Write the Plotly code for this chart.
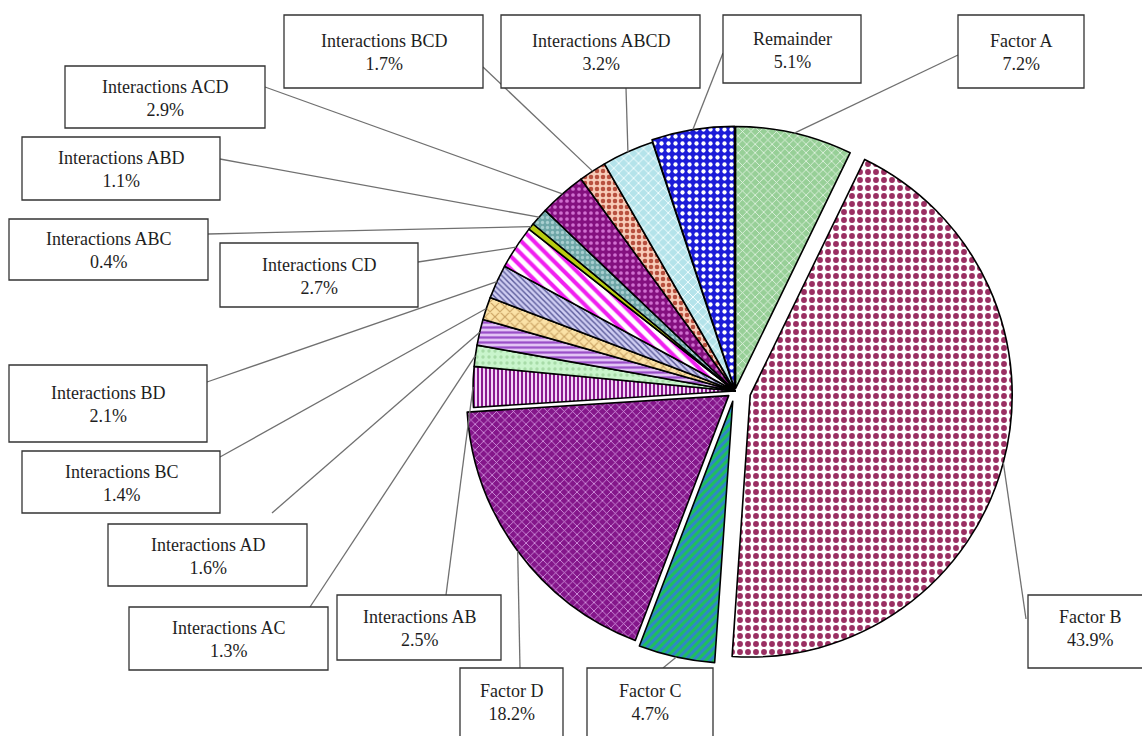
import math
import plotly.graph_objects as go

# ---------------- data ----------------
labels = ["Factor A", "Factor B", "Factor C", "Factor D",
          "Interactions AB", "Interactions AC", "Interactions AD", "Interactions BC",
          "Interactions BD", "Interactions CD", "Interactions ABC", "Interactions ABD",
          "Interactions ACD", "Interactions BCD", "Interactions ABCD", "Remainder"]
values = [7.2, 43.9, 4.7, 18.2, 2.5, 1.3, 1.6, 1.4, 2.1, 2.7, 0.4, 1.1, 2.9, 1.7, 3.2, 5.1]

# ---------------- style ----------------
pulls = [0.01, 0.06, 0.04, 0.03, 0, 0, 0, 0, 0, 0, 0, 0, 0, 0, 0, 0.01]
bg = ["#97cf97", "#ffffff", "#2f86c8", "#84168a", "#f3d6f8", "#c9f5cc", "#e3c4f5", "#fbe2a6",
      "#cfcdf2", "#ffffff", "#b8cc10", "#6fa7a8", "#84107f", "#f7cbb8", "#b4e3ea", "#1c1cd8"]
fg = ["#e8f6e8", "#9a2f62", "#1fc05a", "#d9a2e6", "#8a1a8e", "#a8dca8", "#9a4fc8", "#c9a060",
      "#5a5a9a", "#f020f0", "#404000", "#a9cfd0", "#d070d0", "#b8503f", "#f4ffff", "#ffffff"]
shapes_p = ["x", ".", "/", "x", "|", ".", "-", "x", "\\", "\\", "", ".", ".", ".", "x", "."]
sizes = [6, 8, 6, 6, 4, 6, 5, 7, 4, 9, 4, 5, 6, 6, 7, 7]
solid = [0.25, 0.42, 0.5, 0.25, 0.5, 0.25, 0.45, 0.3, 0.35, 0.45, 0.3, 0.35, 0.3, 0.45, 0.25, 0.3]

W, H = 1142, 736
CX, CY, R = 735, 391, 262          # pie centre / radius in pixels

# label boxes [x0, y0, x1, y1], line anchor (x, y), text centre y
boxes = [
    [958, 15, 1084, 88], [1028, 595, 1152, 668], [587, 668, 713, 750], [460, 668, 563, 750],
    [337, 595, 501, 660], [129, 607, 328, 670], [108, 524, 307, 586], [22, 451, 220, 513],
    [9, 365, 207, 442], [220, 243, 418, 307], [9, 219, 208, 280], [22, 137, 220, 200],
    [65, 66, 265, 128], [284, 15, 483, 88], [501, 15, 700, 88], [723, 15, 861, 83],
]
anchors = [
    (958, 55), (1026, 619), (663, 668), (520, 668),
    (446, 595), (310, 607), (272, 513), (220, 457),
    (207, 382), (418, 262), (208, 234), (220, 159),
    (265, 87), (483, 67), (626, 88), (723, 53),
]
text_cy = [None, 628, 702, 702, None, None, None, None, None, None, None, None, None, None, None, None]

fig = go.Figure()

maxp = max(pulls)
half = R * (1 + maxp)
fig.add_trace(go.Pie(
    labels=labels, values=values, sort=False, direction="clockwise", rotation=0,
    pull=pulls, textinfo="none", hoverinfo="label+percent", showlegend=False,
    domain=dict(x=[(CX - half) / W, (CX + half) / W],
                y=[(H - CY - half) / H, (H - CY + half) / H]),
    marker=dict(colors=bg, line=dict(color="#000000", width=1.6),
                pattern=dict(shape=shapes_p, fgcolor=fg, bgcolor=bg, size=sizes,
                             solidity=solid, fillmode="replace")),
))
fig.add_trace(go.Scatter(x=[], y=[], showlegend=False, hoverinfo="skip"))

total = sum(values)
cum = 0.0
shapes = []
annos = []
for i, (lab, v) in enumerate(zip(labels, values)):
    mid = (cum + v / 2) / total
    cum += v
    th = 2 * math.pi * mid
    rr = R * (1 + pulls[i])
    px = CX + rr * math.sin(th)
    py = CY - rr * math.cos(th)
    ax, ay = anchors[i]
    shapes.append(dict(type="line", xref="x", yref="y", x0=ax, y0=ay, x1=px, y1=py,
                       line=dict(color="#707070", width=1.3), layer="above"))
    x0, y0, x1, y1 = boxes[i]
    shapes.append(dict(type="rect", xref="x", yref="y", x0=x0, y0=y0, x1=x1, y1=y1,
                       line=dict(color="#333333", width=1.3), fillcolor="white", layer="above"))
    tcy = text_cy[i] if text_cy[i] is not None else (y0 + y1) / 2 + 1
    pct = 100 * v / total
    annos.append(dict(x=(x0 + x1) / 2, y=tcy, xref="x", yref="y", showarrow=False,
                      text=f"{lab}<br>{pct:.1f}%", align="center",
                      font=dict(family="Liberation Serif", size=18, color="#1e1e1e")))

fig.update_layout(
    width=W, height=H, margin=dict(l=0, r=0, t=0, b=0),
    paper_bgcolor="white", plot_bgcolor="rgba(0,0,0,0)",
    xaxis=dict(range=[0, W], visible=False, fixedrange=True, domain=[0, 1]),
    yaxis=dict(range=[H, 0], visible=False, fixedrange=True, domain=[0, 1]),
    shapes=shapes, annotations=annos,
)
fig.write_html("out.html")
